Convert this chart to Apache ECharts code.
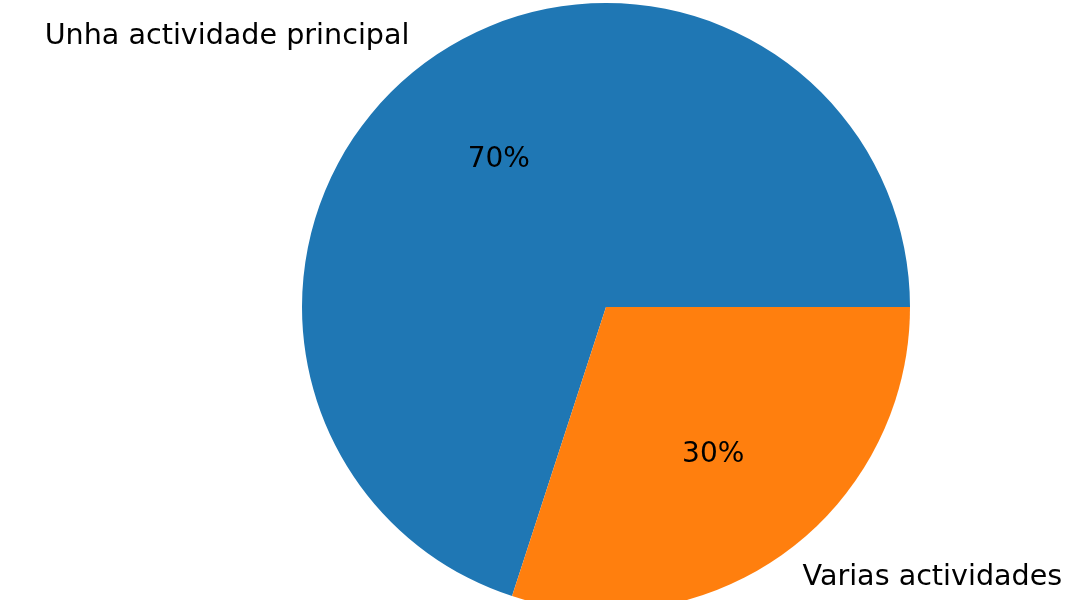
<!DOCTYPE html>
<html>
<head>
<meta charset="utf-8">
<script src="https://cdn.jsdelivr.net/npm/echarts@6/dist/echarts.min.js"></script>
<style>
html,body{margin:0;padding:0;background:#fff;}
#chart{width:1086px;height:600px;}
</style>
</head>
<body>
<div id="chart"></div>
<script>
const categories = ['Unha actividade principal', 'Varias actividades'];
const values = [70, 30];
const colors = ['#1f77b4', '#ff7f0e'];

const R = 304;
const center = [606, 307];
const font = 'DejaVu Sans';

const data = categories.map((c, i) => ({ name: c, value: values[i], itemStyle: { color: colors[i] } }));

const chart = echarts.init(document.getElementById('chart'), null, { renderer: 'canvas' });
chart.setOption({
  animation: false,
  backgroundColor: '#fff',
  series: [
    {
      type: 'pie',
      center: center,
      radius: [0, R],
      startAngle: 0,
      clockwise: false,
      avoidLabelOverlap: false,
      silent: true,
      data: data,
      itemStyle: { borderWidth: 0 },
      label: {
        show: true,
        position: 'outside',
        formatter: '{b}',
        fontFamily: font,
        fontSize: 28.6,
        color: '#000',
        padding: [4, 0, 0, 0],
        distanceToLabelLine: 0
      },
      labelLine: { show: false, length: R * 0.1, length2: 0 }
    },
    {
      type: 'pie',
      center: center,
      radius: [R * 0.2 - 6, R],
      startAngle: 0,
      clockwise: false,
      avoidLabelOverlap: false,
      silent: true,
      data: data.map(d => ({ name: d.name, value: d.value })),
      itemStyle: { color: 'rgba(0,0,0,0)', borderWidth: 0 },
      label: {
        show: true,
        position: 'inside',
        formatter: p => Math.round(p.percent) + '%',
        fontFamily: font,
        fontSize: 28,
        color: '#000',
        padding: [3, 0, 0, 0]
      },
      labelLine: { show: false }
    }
  ]
});
</script>
</body>
</html>
